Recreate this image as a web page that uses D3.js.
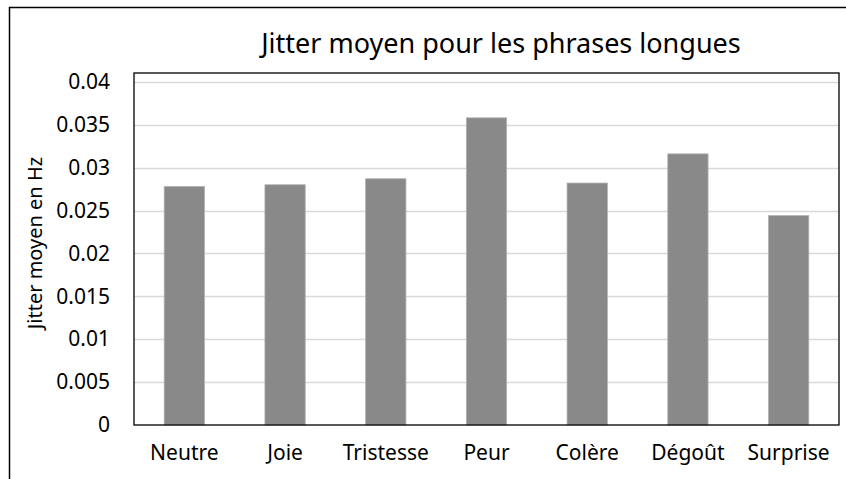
<!DOCTYPE html>
<html>
<head>
<meta charset="utf-8">
<script src="https://cdn.jsdelivr.net/npm/d3@7"></script>
<style>
  body { margin: 0; background: #fff; }
  text { font-family: 'Noto Sans', sans-serif; fill: #000; }
</style>
</head>
<body>
<div id="chart"></div>
<script>
let categories = ['Neutre', 'Joie', 'Tristesse', 'Peur', 'Colère', 'Dégoût', 'Surprise']
let values = [0.0278, 0.028, 0.0287, 0.0358, 0.0282, 0.0316, 0.0244]
let yTicks = [0, 0.005, 0.01, 0.015, 0.02, 0.025, 0.03, 0.035, 0.04]
let yTickLabels = ['0', '0.005', '0.01', '0.015', '0.02', '0.025', '0.03', '0.035', '0.04']
let title = 'Jitter moyen pour les phrases longues'
let yTitle = 'Jitter moyen en Hz'

let width = 846
let height = 479
let plot = { left: 134, top: 73, right: 839, bottom: 425 }
let barColor = '#898989'
let gridColor = '#d9d9d9'

let svg = d3.select('#chart')
  .append('svg')
  .attr('width', width)
  .attr('height', height)

// outer frame (only top and left show in the crop)
svg.append('path')
  .attr('d', `M9.5,${height} V7.5 H${width}`)
  .attr('fill', 'none')
  .attr('stroke', '#000')
  .attr('stroke-width', 1.5)

let x = d3.scaleBand()
  .domain(categories)
  .range([plot.left, plot.right])
  .paddingInner(0.6)
  .paddingOuter(0.3)

let y = d3.scaleLinear()
  .domain([0, 0.04])
  .range([plot.bottom, plot.bottom - 8 * 42.9])

// gridlines
svg.append('g')
  .selectAll('line')
  .data(yTicks.slice(1))
  .enter()
  .append('line')
  .attr('x1', plot.left)
  .attr('x2', plot.right)
  .attr('y1', d => Math.round(y(d)) + 0.5)
  .attr('y2', d => Math.round(y(d)) + 0.5)
  .attr('stroke', gridColor)
  .attr('stroke-width', 1.5)

// bars
svg.append('g')
  .selectAll('rect')
  .data(values)
  .enter()
  .append('rect')
  .attr('x', (d, i) => x(categories[i]))
  .attr('y', d => y(d))
  .attr('width', x.bandwidth())
  .attr('height', d => y(0) - y(d))
  .attr('fill', barColor)
  .attr('stroke', '#b0b0b0')
  .attr('stroke-width', 0.8)

// plot frame
svg.append('rect')
  .attr('x', plot.left)
  .attr('y', plot.top)
  .attr('width', plot.right - plot.left)
  .attr('height', plot.bottom - plot.top)
  .attr('fill', 'none')
  .attr('stroke', '#000')
  .attr('stroke-width', 1.3)

// y axis labels
let yAxis = d3.axisLeft(y)
  .tickValues(yTicks)
  .tickFormat((d, i) => yTickLabels[i])
  .tickSize(0)
  .tickPadding(24)
svg.append('g')
  .attr('transform', `translate(${plot.left},0)`)
  .call(yAxis)
  .call(g => g.select('.domain').remove())
  .selectAll('text')
  .style('font-size', '21px')
  .style('font-family', "'Noto Sans', sans-serif")
  .attr('fill', '#000')

// x axis labels
let xAxis = d3.axisBottom(x).tickSize(0).tickPadding(20)
svg.append('g')
  .attr('transform', `translate(0,${plot.bottom})`)
  .call(xAxis)
  .call(g => g.select('.domain').remove())
  .selectAll('text')
  .style('font-size', '21px')
  .style('font-family', "'Noto Sans', sans-serif")
  .attr('fill', '#000')

// title
svg.append('text')
  .attr('x', 501)
  .attr('y', 53)
  .attr('text-anchor', 'middle')
  .style('font-size', '27px')
  .text(title)

// y title
svg.append('text')
  .attr('transform', 'translate(42,243) rotate(-90)')
  .attr('text-anchor', 'middle')
  .style('font-size', '20px')
  .text(yTitle)
</script>
</body>
</html>
